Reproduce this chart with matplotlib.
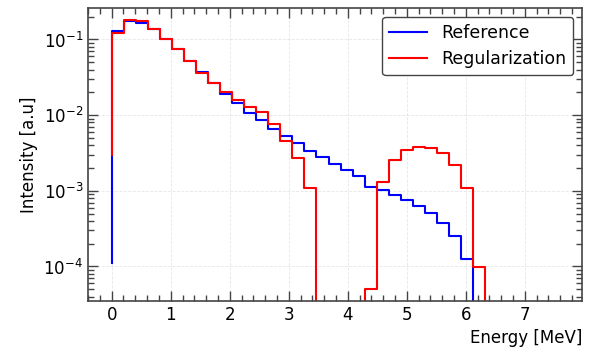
import numpy as np
from matplotlib import pyplot as plt
from matplotlib.ticker import MultipleLocator, LogLocator, NullFormatter

energy = np.linspace(0, 10, 50)  # bin edges [MeV]

reference = [1.1e-4, 0.131, 0.174, 0.167, 0.138, 0.103, 0.074, 0.052, 0.0376, 0.0264,
             0.019, 0.0145, 0.0108, 0.0085, 0.0066, 0.0053, 0.00428, 0.00334, 0.00278,
             0.00229, 0.00191, 0.00157, 0.00114, 0.00102, 0.00089, 0.00076, 0.00063,
             0.000504, 0.000378, 0.000256, 0.000127] + [0] * 19
regularization = [2.96e-3, 0.122, 0.18, 0.174, 0.138, 0.103, 0.074, 0.052, 0.0363, 0.0264,
                  0.0202, 0.0161, 0.0130, 0.0111, 0.0076, 0.0046, 0.0027, 0.00109, 0,
                  0, 0, 0, 5.1e-5, 0.00132, 0.00256, 0.00345, 0.00379, 0.0037, 0.00318,
                  0.00218, 0.00109, 9.8e-5] + [0] * 18

fig = plt.figure(figsize=(5.91, 3.52), dpi=100)
ax = fig.add_axes([0.149, 0.145, 0.836, 0.832])

ax.step(energy, reference, color="blue", lw=1.5, label="Reference")
ax.step(energy, regularization, color="red", lw=1.5, label="Regularization")

ax.set_yscale("log")
ax.set_xlim(-0.4, 7.97)
ax.set_ylim(3.5e-5, 0.26)
ax.xaxis.set_major_locator(MultipleLocator(1))
ax.xaxis.set_minor_locator(MultipleLocator(0.2))
ax.yaxis.set_minor_locator(LogLocator(base=10, subs=np.arange(2, 10)))
ax.yaxis.set_minor_formatter(NullFormatter())

ax.tick_params(which="both", direction="in", top=True, right=True, labelsize=12, color="#444444")
ax.tick_params(which="major", length=7, width=1)
ax.tick_params(which="minor", length=4, width=1)
for sp in ax.spines.values():
    sp.set_color("#444444")
    sp.set_linewidth(1.2)

ax.grid(True, which="major", ls="--", lw=0.6, alpha=0.3)
ax.set_xlabel("Energy [MeV]", fontsize=12, loc="right")
ax.set_ylabel("Intensity [a.u]", fontsize=12)
leg = ax.legend(loc="upper right", fontsize=12.5, handlelength=2.2, framealpha=1)
leg.get_frame().set_edgecolor("#444444")

plt.savefig("out.png")
